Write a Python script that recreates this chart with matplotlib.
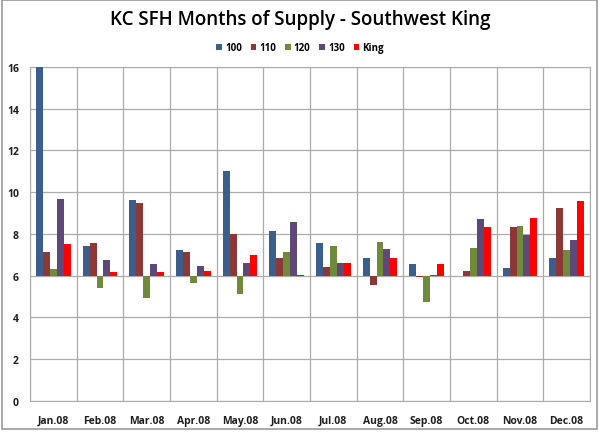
import numpy as np
import matplotlib
matplotlib.use('Agg')
import matplotlib.pyplot as plt
from matplotlib.patches import Rectangle

months = ['Jan.08', 'Feb.08', 'Mar.08', 'Apr.08', 'May.08', 'Jun.08',
          'Jul.08', 'Aug.08', 'Sep.08', 'Oct.08', 'Nov.08', 'Dec.08']
series = ['100', '110', '120', '130', 'King']

s100 = [16.0, 7.41, 9.63, 7.21, 11.0, 8.14, 7.57, 6.83, 6.54, 6.0, 6.35, 6.83]
s110 = [7.16, 7.56, 9.49, 7.13, 8.0, 6.83, 6.44, 5.57, 5.95, 6.25, 8.32, 9.25]
s120 = [6.32, 5.43, 4.94, 5.65, 5.11, 7.16, 7.44, 7.60, 4.76, 7.35, 8.38, 7.25]
s130 = [9.70, 6.73, 6.57, 6.48, 6.60, 8.59, 6.60, 7.30, 6.05, 8.73, 7.94, 7.73]
king = [7.52, 6.16, 6.19, 6.22, 6.97, 6.05, 6.63, 6.83, 6.57, 8.32, 8.76, 9.57]

colors = ['#3B5E8C', '#8C3836', '#6F8A3B', '#5E4878', '#FF0000']
base = 6

plt.rcParams['font.family'] = ['Open Sans', 'DejaVu Sans']

fig = plt.figure(figsize=(6, 4.35), dpi=100)
ax = fig.add_axes([0.05, 0.0759, 0.9333, 0.7678])

x = np.arange(len(months))
w = 0.148
data = [s100, s110, s120, s130, king]
for i, (name, vals) in enumerate(zip(series, data)):
    vals = np.array(vals)
    ax.bar(x + (i - 2) * w, vals - base, bottom=base, width=w,
           color=colors[i], label=name, zorder=3)

ax.set_xlim(-0.5, 11.5)
ax.set_ylim(0, 16)
ax.set_yticks(np.arange(0, 17, 2))
ax.set_xticks(x)
ax.set_xticklabels(months)
ax.set_xticks(np.arange(-0.5, 12, 1), minor=True)
ax.grid(True, which='minor', axis='x', color='#ABABAB', lw=0.9, zorder=0)
ax.grid(True, which='major', axis='y', color='#ABABAB', lw=0.9, zorder=0)
ax.tick_params(which='both', length=0)
ax.tick_params(axis='x', pad=10)
ax.tick_params(axis='y', pad=8)
for lab in ax.get_xticklabels() + ax.get_yticklabels():
    lab.set_fontsize(7.5)
    lab.set_fontweight('bold')
    lab.set_color('#1F1F1F')
for sp in ax.spines.values():
    sp.set_color('#ABABAB')

fig.text(0.5, 0.953, 'KC SFH Months of Supply - Southwest King',
         ha='center', va='center', fontsize=13.5, fontweight='semibold')
fig.legend(loc='center', bbox_to_anchor=(0.5, 0.888), ncol=5, frameon=False,
           handlelength=0.6, handleheight=0.6,
           handletextpad=0.3, columnspacing=0.9,
           prop={'weight': 'bold', 'size': 7})

fig.patches.append(Rectangle((0.004, 0.012), 0.991, 0.985, transform=fig.transFigure,
                             fill=False, edgecolor='#9A9A9A', lw=1.2))

plt.savefig('out.png', dpi=100)
